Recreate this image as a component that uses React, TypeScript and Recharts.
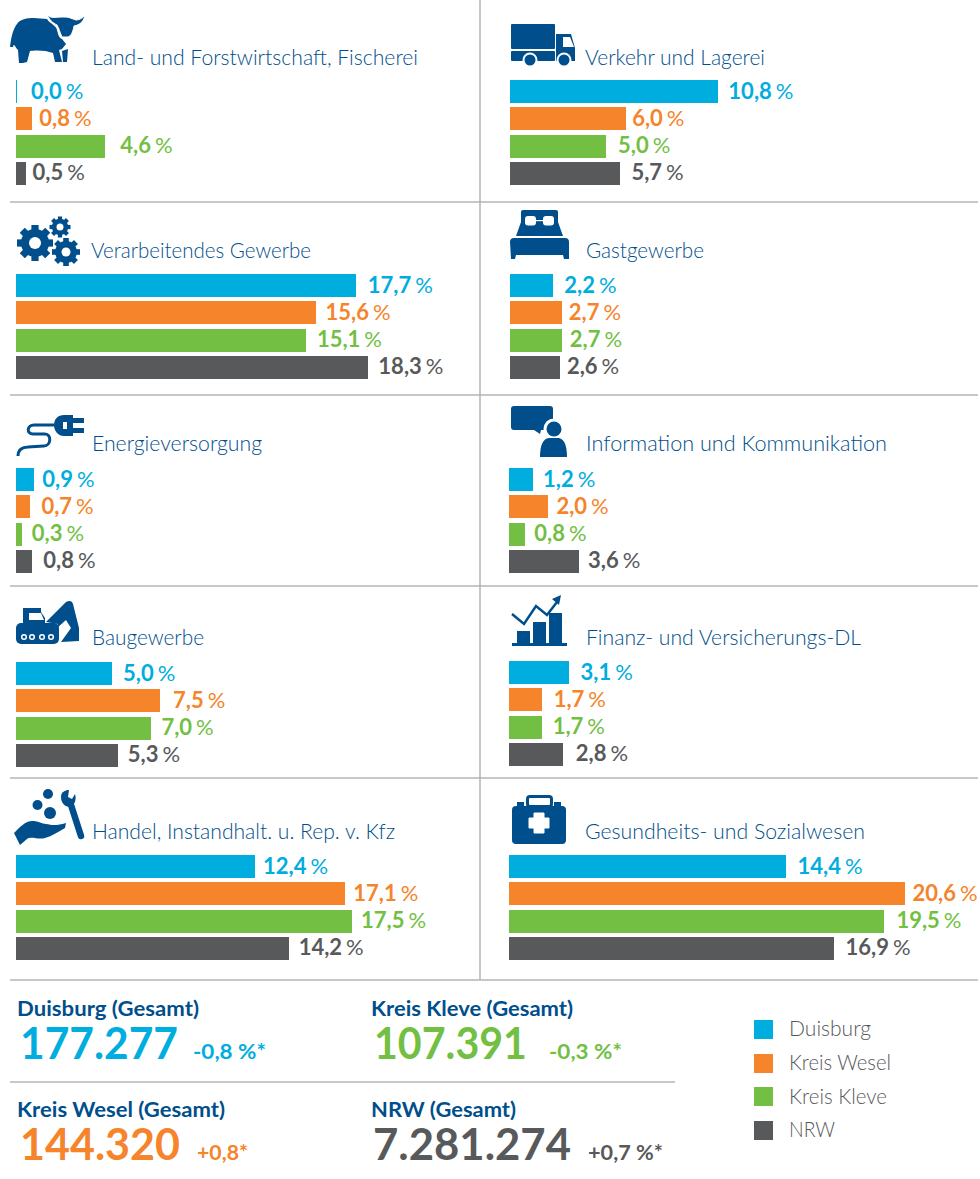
import React from "react";
import { Bar, BarChart, LabelList, XAxis, YAxis } from "recharts";

const FONT = "Lato, sans-serif";
const DARK_BLUE = "#004f8c";
const RULE = "#b4b4b8";

const seriesNames = ["Duisburg", "Kreis Wesel", "Kreis Kleve", "NRW"];
const seriesColors = ["#00addf", "#f5842b", "#72bf44", "#58595b"];

const sectorNames = [
	"Land- und Forstwirtschaft, Fischerei",
	"Verarbeitendes Gewerbe",
	"Energieversorgung",
	"Baugewerbe",
	"Handel, Instandhalt. u. Rep. v. Kfz",
	"Verkehr und Lagerei",
	"Gastgewerbe",
	"Information und Kommunikation",
	"Finanz- und Versicherungs-DL",
	"Gesundheits- und Sozialwesen",
];

const landwirtschaft = [0.0, 0.8, 4.6, 0.5];
const verarbeitend = [17.7, 15.6, 15.1, 18.3];
const energie = [0.9, 0.7, 0.3, 0.8];
const bau = [5.0, 7.5, 7.0, 5.3];
const handel = [12.4, 17.1, 17.5, 14.2];
const verkehr = [10.8, 6.0, 5.0, 5.7];
const gast = [2.2, 2.7, 2.7, 2.6];
const information = [1.2, 2.0, 0.8, 3.6];
const finanz = [3.1, 1.7, 1.7, 2.8];
const gesundheit = [14.4, 20.6, 19.5, 16.9];
const sectorValues = [landwirtschaft, verarbeitend, energie, bau, handel, verkehr, gast, information, finanz, gesundheit];

const totalNames = ["Duisburg (Gesamt)", "Kreis Kleve (Gesamt)", "Kreis Wesel (Gesamt)", "NRW (Gesamt)"];
const totalValues = ["177.277", "107.391", "144.320", "7.281.274"];
const totalChanges = ["-0,8 %*", "-0,3 %*", "+0,8*", "+0,7 %*"];
const totalColors = [seriesColors[0], seriesColors[2], seriesColors[1], seriesColors[3]];

// layout only
const PX_PER_PERCENT = 19.2;
const CHART_W = 468;
const CHART_H = 109;
const panelX = [16, 16, 16, 16, 16, 510, 510, 509, 509, 509];
const panelY = [78, 272, 466, 660, 853, 78, 272, 466, 659, 853];
const titleX = [92, 91, 92, 92, 92, 585, 586, 586, 586, 585];
const titleY = [65, 258, 451, 645, 839, 65, 258, 451, 645, 839];
const titleW = [326, 220, 170, 112, 303, 180, 118, 301, 275, 280];
const nameW = [182, 202, 208, 145];
const valueW = [158, 153, 160, 198];
const changeW = [73, 73, 51, 75];
const legendW = [82, 102, 98, 46];
const labelGaps = [
	[15, 8, 16, 7],
	[12, 10, 11, 11],
	[9, 12, 10, 12],
	[11, 13, 11, 10],
	[9, 9, 9, 10],
	[11, 7, 12, 12],
	[12, 7, 8, 7],
	[11, 9, 10, 10],
	[12, 12, 11, 13],
	[12, 8, 13, 12],
];

const formatValue = (v: number) => v.toFixed(1).replace(".", ",");

const BarShape = (props: any) => (
	<rect
		x={Math.round(props.x)}
		y={Math.round(props.y)}
		width={Math.max(1, Math.ceil(props.width))}
		height={23}
		fill={seriesColors[props.index]}
	/>
);

const SectorChart = ({ index }: { index: number }) => {
	const data = seriesNames.map((name, i) => ({ name, value: sectorValues[index][i] }));

	const renderLabel = (props: any) => {
		const box = props.viewBox ?? props;
		const i = props.index;
		return (
			<text
				x={box.x + box.width + labelGaps[index][i]}
				y={box.y + box.height / 2 + 7}
				fill={seriesColors[i]}
				fontFamily={FONT}
				fontSize={22}
				fontWeight={700}
			>
				{formatValue(props.value)}
				<tspan dx={4} fontWeight={400}>%</tspan>
			</text>
		);
	};

	return (
		<div style={{ position: "absolute", left: panelX[index], top: panelY[index] }}>
			<BarChart
				width={CHART_W}
				height={CHART_H}
				data={data}
				layout="vertical"
				barSize={23}
				margin={{ top: 0, right: 0, bottom: 0, left: 0 }}
			>
				<XAxis type="number" domain={[0, CHART_W / PX_PER_PERCENT]} hide />
				<YAxis type="category" dataKey="name" hide />
				<Bar dataKey="value" isAnimationActive={false} shape={BarShape}>
					<LabelList dataKey="value" content={renderLabel} />
				</Bar>
			</BarChart>
		</div>
	);
};

const Gear = ({ cx, cy, r, hole, teeth }: { cx: number; cy: number; r: number; hole: number; teeth: number }) => (
	<g>
		<circle cx={cx} cy={cy} r={r * 0.78} fill={DARK_BLUE} />
		{Array.from({ length: teeth }).map((_, i) => (
			<rect
				key={i}
				x={cx - r * 0.2}
				y={cy - r}
				width={r * 0.4}
				height={r * 0.4}
				fill={DARK_BLUE}
				transform={`rotate(${(360 / teeth) * i} ${cx} ${cy})`}
			/>
		))}
		<circle cx={cx} cy={cy} r={hole} fill="#fff" />
	</g>
);

const Icons = () => (
	<g fill={DARK_BLUE}>
		{/* cow */}
		<path d="M10 47 C11 38 13 29 17 24 C20 19 27 18 34 18 L47 19 C50 24 56 25 57 30 C58 34 59 38 62 39 L66 44 L62 49 L59 50 L62 62 L55 62 L53 53 C46 50 35 50 30 51 L27 62 L23 63 L19 63 L18 50 C15 47 14 42 13 47 Z" />
		<path d="M62 51 L68 49 L67 62 L63 62 Z" />
		<path d="M47 14 C50 19 54 17 64 17 C70 17 72 19 76 20 C80 20 84 17 85 15 C84 21 80 25 74 26 C73 32 71 36 68 37 L62 37 C60 33 59 28 57 25 C53 23 49 20 47 14 Z" stroke="#fff" strokeWidth={1} />
		{/* gears */}
		<Gear cx={35} cy={243} r={18} hole={6} teeth={8} />
		<Gear cx={60} cy={227} r={10.5} hole={3.5} teeth={8} />
		<Gear cx={66} cy={252} r={14} hole={4.5} teeth={8} />
		{/* plug */}
		<path d="M18 456 C18 450 22 447 28 447 L44 446 C51 446 52 434 45 434 L33 434 C26 434 27 425 34 425 L54 425" fill="none" stroke={DARK_BLUE} strokeWidth={3} />
		<path d="M73 415 L73 436 L64 436 C58 436 54 431 54 425 C54 419 58 415 64 415 Z" />
		<rect x={63} y={422} width={4} height={7} fill="#fff" />
		<rect x={73} y={418} width={11} height={5} />
		<rect x={73} y={428} width={11} height={5} />
		{/* excavator */}
		<path d="M23 608 L41 608 L41 612 L45 618 L45 626 L23 626 Z M29 613 L29 620 L44 620 L41 613 Z" fillRule="evenodd" />
		<rect x={16} y={623} width={43} height={21} rx={5} />
		<path d="M46 622 L66 602 C70 600 72 601 73 604 L79 628 L79 641 L61 642 L71 628 L66 620 L57 628 L58 624 Z" />
		{[24, 32, 42, 51].map((x) => (
			<circle key={x} cx={x} cy={637} r={2.3} fill={DARK_BLUE} stroke="#fff" strokeWidth={1.5} />
		))}
		{/* hand and wrench */}
		<circle cx={48} cy={794} r={5} />
		<circle cx={37.5} cy={805} r={5} />
		<circle cx={50} cy={813} r={6} />
		<path d="M14 833 C20 827 26 820 34 821 C38 821 42 824 46 824 C52 825 56 826 66 823 L65 828 C58 832 52 836 45 838 C38 840 32 836 27 839 L20 845 Z" />
		<path d="M71 805 L81 836" fill="none" stroke={DARK_BLUE} strokeWidth={6.5} strokeLinecap="round" />
		<path d="M61 797 C61 792 65 790 69 790 L68 797 L72 799 L75 794 C77 800 74 806 70 807 C65 807 61 803 61 797 Z" />
		{/* truck */}
		<rect x={511} y={24} width={44} height={25} rx={1} />
		<rect x={511} y={51} width={44} height={10} rx={1} />
		<path d="M556 34 L571 34 L575 48 L575 61 L556 61 Z M563 37 L563 47 L574 47 L570 37 Z" fillRule="evenodd" />
		<circle cx={530} cy={60} r={7.5} fill="#fff" />
		<circle cx={530} cy={60} r={5.5} />
		<circle cx={564} cy={60} r={7.5} fill="#fff" />
		<circle cx={564} cy={60} r={5.5} />
		{/* bed */}
		<path d="M521 212 Q521 210 523 210 L556 210 Q558 210 558 212 L558 222 L563 236 L516 236 L521 222 Z" />
		<rect x={525} y={216} width={11} height={9.5} rx={3} fill="#fff" />
		<rect x={543} y={216} width={11} height={9.5} rx={3} fill="#fff" />
		<rect x={536} y={220} width={7} height={1.2} fill="#fff" />
		<path d="M510 242 Q510 238 514 238 L565 238 Q569 238 569 242 L569 259 L564 259 L563 255 L516 255 L515 259 L511 259 Z" />
		{/* speech and person */}
		<path d="M511 409 Q511 406 514 406 L550 406 Q553 406 553 409 L553 427 Q553 430 550 430 L541 430 L540 434 L534 430 L514 430 Q511 430 511 427 Z" />
		<circle cx={554} cy={429} r={10.5} fill="#fff" />
		<circle cx={554} cy={429} r={7.5} />
		<path d="M540 457 Q540 439 549 438 L559 438 Q567 440 567 457 Z" />
		{/* finance */}
		<rect x={517} y={631} width={13} height={12} />
		<rect x={533} y={622} width={13} height={21} />
		<rect x={549} y={613} width={13} height={30} />
		<rect x={512} y={643} width={55} height={3} />
		<path d="M512 614 L524 624 L536 606 L547 615 L557 602" fill="none" stroke={DARK_BLUE} strokeWidth={2.5} />
		<path d="M552 599 L561 595 L559 605 Z" />
		{/* first aid kit */}
		<rect x={512} y={806} width={54} height={38} rx={4} />
		<rect x={527.5} y={796.5} width={24} height={10} rx={2.5} fill="none" stroke={DARK_BLUE} strokeWidth={3} />
		<rect x={517} y={802} width={7} height={4} />
		<rect x={554} y={802} width={7} height={4} />
		<path d="M534 813 L544 813 L544 818 L549 818 L549 828 L544 828 L544 833 L534 833 L534 828 L529 828 L529 818 L534 818 Z" fill="#fff" stroke="#fff" strokeWidth={1} strokeLinejoin="round" />
	</g>
);

const Overlay = () => {
	const totalPos = [
		{ x: 17, nameY: 1016, valueX: 20, valueY: 1059, changeX: 193 },
		{ x: 371, nameY: 1016, valueX: 374, valueY: 1059, changeX: 549 },
		{ x: 17, nameY: 1117, valueX: 20, valueY: 1160, changeX: 197 },
		{ x: 371, nameY: 1117, valueX: 373, valueY: 1160, changeX: 588 },
	];
	return (
		<svg width={980} height={1179} style={{ position: "absolute", left: 0, top: 0 }} fontFamily={FONT}>
			<g stroke={RULE} strokeWidth={1.5}>
				<line x1={480} y1={0} x2={480} y2={980} />
				{[202, 395, 586, 778, 980].map((y) => (
					<line key={y} x1={10} y1={y} x2={978} y2={y} />
				))}
				<line x1={10} y1={1082} x2={675} y2={1082} />
			</g>
			<Icons />
			{sectorNames.map((name, i) => (
				<text key={name} x={titleX[i]} y={titleY[i]} fontSize={22} fontWeight={300} fill={DARK_BLUE} textLength={titleW[i]} lengthAdjust="spacingAndGlyphs">
					{name}
				</text>
			))}
			{totalNames.map((name, i) => (
				<g key={name}>
					<text x={totalPos[i].x} y={totalPos[i].nameY} fontSize={21} fontWeight={700} fill={DARK_BLUE} textLength={nameW[i]} lengthAdjust="spacingAndGlyphs">
						{name}
					</text>
					<text x={totalPos[i].valueX} y={totalPos[i].valueY} fontSize={44} fontWeight={700} fill={totalColors[i]} textLength={valueW[i]} lengthAdjust="spacingAndGlyphs">
						{totalValues[i]}
					</text>
					<text x={totalPos[i].changeX} y={totalPos[i].valueY} fontSize={20} fontWeight={700} fill={totalColors[i]} textLength={changeW[i]} lengthAdjust="spacingAndGlyphs">
						{totalChanges[i]}
					</text>
				</g>
			))}
			{seriesNames.map((name, i) => (
				<g key={name}>
					<rect x={754} y={1020 + [0, 34, 67, 101][i]} width={19} height={19} fill={seriesColors[i]} />
					<text x={789} y={1036 + [0, 34, 68, 101][i]} fontSize={21} fontWeight={300} fill="#58595b" textLength={legendW[i]} lengthAdjust="spacingAndGlyphs">
						{name}
					</text>
				</g>
			))}
		</svg>
	);
};

export default function App() {
	return (
		<div style={{ position: "absolute", left: 0, top: 0, width: 980, height: 1179, overflow: "hidden", background: "#fff" }}>
			<Overlay />
			{sectorNames.map((name, i) => (
				<SectorChart key={name} index={i} />
			))}
		</div>
	);
}
